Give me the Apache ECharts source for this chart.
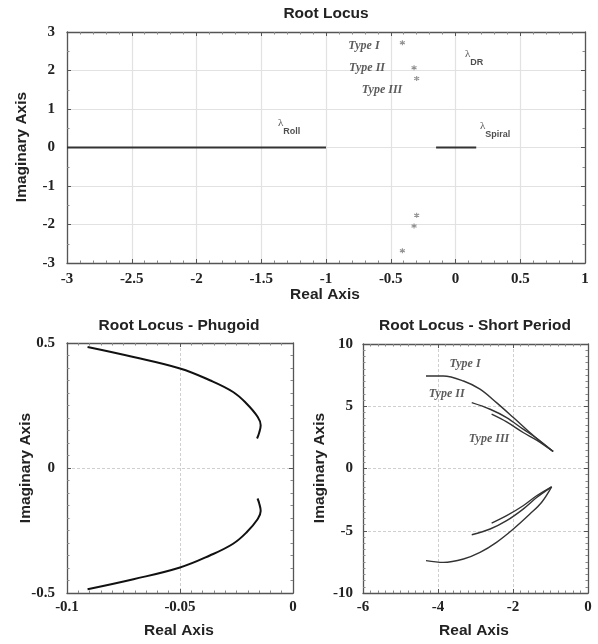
<!DOCTYPE html>
<html><head><meta charset="utf-8">
<script src="https://cdn.jsdelivr.net/npm/echarts@6/dist/echarts.min.js"></script>
<style>html,body{margin:0;padding:0;background:#fff}#c{width:598px;height:644px}</style>
</head><body><div id="c"></div>
<script>
// ---- Top: full root locus ----
const rollLine = [[-3, 0], [-1, 0]];
const spiralLine = [[-0.15, 0], [0.16, 0]];
const drPoles = [[-0.41, 2.72], [-0.32, 2.07], [-0.30, 1.79], [-0.41, -2.68], [-0.32, -2.04], [-0.30, -1.76]];
const topTypeLabels = [[-0.707, 2.64, 'Type I'], [-0.683, 2.06, 'Type II'], [-0.568, 1.49, 'Type III']];
const lambdaLabels = [[-1.371, 0.54, 'Roll'], [0.073, 2.33, 'DR'], [0.189, 0.46, 'Spiral']];

// ---- Bottom left: phugoid ----
const phugoidUpper = [[-0.0909, 0.484], [-0.0706, 0.444], [-0.05, 0.398], [-0.0368, 0.351], [-0.0265, 0.304],
  [-0.0206, 0.258], [-0.0156, 0.204], [-0.0143, 0.171], [-0.0150, 0.14], [-0.0159, 0.118]];
const phugoidLower = [[-0.0909, -0.485], [-0.0706, -0.445], [-0.05, -0.398], [-0.0368, -0.35], [-0.0265, -0.303],
  [-0.0206, -0.258], [-0.0156, -0.204], [-0.0143, -0.172], [-0.0150, -0.14], [-0.0157, -0.122]];

// ---- Bottom right: short period ----
const sp1Upper = [[-4.32, 7.43], [-3.86, 7.43], [-3.32, 7.03], [-2.88, 6.37], [-2.44, 5.29], [-1.99, 4.09], [-1.55, 2.89], [-1.24, 2.09], [-0.93, 1.37]];
const sp2Upper = [[-3.10, 5.29], [-2.61, 4.76], [-2.17, 4.09], [-1.73, 3.16], [-1.37, 2.43], [-0.93, 1.37]];
const sp3Upper = [[-2.57, 4.36], [-2.17, 3.74], [-1.73, 2.89], [-1.37, 2.28], [-0.93, 1.37]];
const sp1Lower = [[-4.32, -7.40], [-3.86, -7.54], [-3.32, -7.27], [-2.88, -6.74], [-2.44, -5.93], [-1.99, -4.86], [-1.55, -3.66], [-1.24, -2.73], [-0.97, -1.47]];
const sp2Lower = [[-3.10, -5.32], [-2.61, -4.86], [-2.17, -4.19], [-1.73, -3.26], [-1.37, -2.33], [-0.97, -1.47]];
const sp3Lower = [[-2.57, -4.38], [-2.17, -3.79], [-1.73, -2.99], [-1.37, -2.19], [-0.97, -1.47]];
const spTypeLabels = [[-3.28, 8.42, 'Type I'], [-3.77, 6.01, 'Type II'], [-2.64, 2.36, 'Type III']];

// ---- Axis ranges / ticks ----
const topX = {min: -3, max: 1, interval: 0.5, minor: 5};
const topY = {min: -3, max: 3, interval: 1, minor: 2};
const phX = {min: -0.1, max: 0, interval: 0.05, minor: 10};
const phY = {min: -0.5, max: 0.5, interval: 0.5, minor: 10};
const spX = {min: -6, max: 0, interval: 2, minor: 10};
const spY = {min: -10, max: 10, interval: 5, minor: 10};

const AX = '#555';
const tickFont = {fontFamily: '"Liberation Serif","DejaVu Serif",serif', fontWeight: 'bold', fontSize: 15, color: '#222'};

function axis(kind, r, grid, pos, primary, gridStyle, margin) {
  return {
    type: 'value', gridIndex: grid, position: pos,
    min: r.min, max: r.max, interval: r.interval,
    axisLine: {show: true, onZero: false, lineStyle: {color: AX, width: 1.3}},
    axisTick: {show: true, inside: true, length: 4, lineStyle: {color: AX}},
    minorTick: {show: true, splitNumber: r.minor, length: 2.5, lineStyle: {color: '#888'}},
    axisLabel: primary ? Object.assign({show: true, margin: margin, formatter: v => String(+v.toFixed(4))}, tickFont) : {show: false},
    splitLine: {show: primary, lineStyle: gridStyle},
    minorSplitLine: {show: false}
  };
}
const solidGrid = {color: '#e2e2e2', width: 1.2};
const dotGrid = {color: '#cfcfcf', width: 1, type: [3, 2]};

const lineS = (data, xi, color, width, sm) => ({
  type: 'line', xAxisIndex: xi, yAxisIndex: xi, data: data, showSymbol: false, symbol: 'none',
  smooth: sm === undefined ? 0.35 : sm, lineStyle: {color: color, width: width}, silent: true, z: 3
});

const typeLabelStyle = {
  show: true, position: 'inside', formatter: p => p.data[2],
  fontFamily: '"Liberation Serif","DejaVu Serif",serif', fontStyle: 'italic', fontWeight: 'bold', fontSize: 12, color: '#333'
};

const asterisk = 'path://M0,-5L0,5M-4.33,-2.5L4.33,2.5M-4.33,2.5L4.33,-2.5';

const option = {
  animation: false,
  backgroundColor: '#fff',
  grid: [
    {left: 67, top: 32, width: 518, height: 231},
    {left: 67, top: 343, width: 226, height: 250},
    {left: 363, top: 344, width: 225, height: 249}
  ],
  xAxis: [
    axis('x', topX, 0, 'bottom', true, solidGrid, 9),
    axis('x', phX, 1, 'bottom', true, dotGrid, 7),
    axis('x', spX, 2, 'bottom', true, dotGrid, 7),
    axis('x', topX, 0, 'top', false),
    axis('x', phX, 1, 'top', false),
    axis('x', spX, 2, 'top', false)
  ],
  yAxis: [
    axis('y', topY, 0, 'left', true, solidGrid, 12),
    axis('y', phY, 1, 'left', true, dotGrid, 12),
    axis('y', spY, 2, 'left', true, dotGrid, 10),
    axis('y', topY, 0, 'right', false),
    axis('y', phY, 1, 'right', false),
    axis('y', spY, 2, 'right', false)
  ],
  series: [
    lineS(rollLine, 0, '#333', 2),
    lineS(spiralLine, 0, '#333', 2),
    {type: 'scatter', xAxisIndex: 0, yAxisIndex: 0, data: drPoles, symbol: asterisk, symbolSize: 5,
      itemStyle: {color: 'none', borderColor: '#777', borderWidth: 1.1}, silent: true, z: 4},
    {type: 'scatter', xAxisIndex: 0, yAxisIndex: 0, data: topTypeLabels, symbolSize: 0, label: typeLabelStyle, silent: true},
    {type: 'scatter', xAxisIndex: 0, yAxisIndex: 0, data: lambdaLabels, symbolSize: 0, silent: true,
      label: {show: true, position: 'right', distance: 0, formatter: p => '{l|λ}{s|' + p.data[2] + '}',
        rich: {
          l: {fontFamily: '"Liberation Serif",serif', fontSize: 11, color: '#222', verticalAlign: 'top', lineHeight: 18},
          s: {fontFamily: '"Liberation Sans",Arial,sans-serif', fontWeight: 'bold', fontSize: 9, color: '#222', verticalAlign: 'bottom', lineHeight: 18}
        }}},
    lineS(phugoidUpper, 1, '#111', 2, 0.4),
    lineS(phugoidLower, 1, '#111', 2, 0.4),
    lineS(sp1Upper, 2, '#333', 1.4),
    lineS(sp2Upper, 2, '#333', 1.4),
    lineS(sp3Upper, 2, '#333', 1.4),
    lineS(sp1Lower, 2, '#333', 1.4),
    lineS(sp2Lower, 2, '#333', 1.4),
    lineS(sp3Lower, 2, '#333', 1.4),
    {type: 'scatter', xAxisIndex: 2, yAxisIndex: 2, data: spTypeLabels, symbolSize: 0, label: typeLabelStyle, silent: true}
  ],
  graphic: (function () {
    const f = 'bold 15.5px "Liberation Sans", Arial, sans-serif';
    const t = (x, y, text, rot) => ({type: 'text', x: x, y: y, rotation: rot || 0, silent: true,
      style: {text: text, font: f, fill: '#222', align: 'center', verticalAlign: 'middle', textAlign: 'center', textVerticalAlign: 'middle'}});
    return [
      t(326, 14, 'Root Locus'),
      t(179, 326, 'Root Locus - Phugoid'),
      t(475, 326, 'Root Locus - Short Period'),
      t(325, 295, 'Real Axis'),
      t(179, 631, 'Real Axis'),
      t(474, 631, 'Real Axis'),
      t(22, 147, 'Imaginary Axis', Math.PI / 2),
      t(26, 468, 'Imaginary Axis', Math.PI / 2),
      t(320, 468, 'Imaginary Axis', Math.PI / 2)
    ];
  })()
};
const chart = echarts.init(document.getElementById('c'), null, {renderer: 'canvas'});
chart.setOption(option);
</script></body></html>
